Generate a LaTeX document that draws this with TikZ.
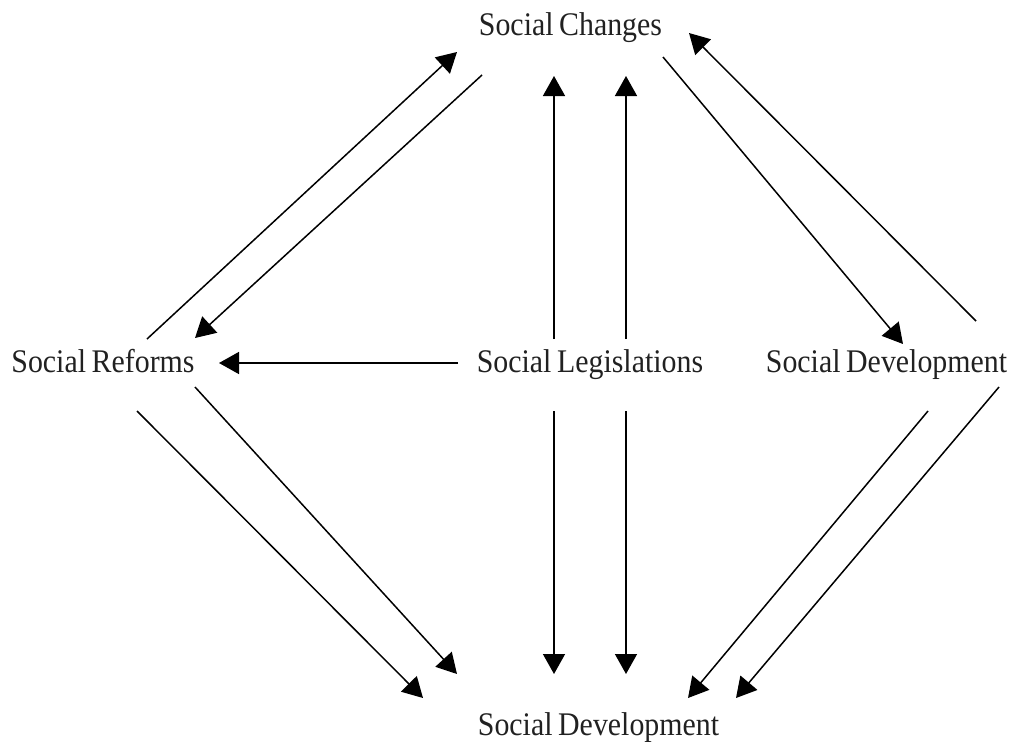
\documentclass[tikz,border=0pt]{standalone}
\usepackage{fontspec}
\setmainfont[WordSpace=0.75]{Liberation Serif}
\usetikzlibrary{arrows.meta}
\newcommand{\cond}[1]{\scalebox{0.905}[1]{#1}}
\begin{document}
\begin{tikzpicture}[x=1pt,y=-1pt,
  lbl/.style={anchor=base,inner sep=0pt,font=\fontsize{33}{38}\selectfont,text=black!87},
  conn/.style={line width=1.5pt,-{Triangle[length=20pt,width=22pt]}}]
\useasboundingbox (0,0) rectangle (1010,742);
\node[lbl] (chg) at (570.5,35) {\cond{Social Changes}};
\node[lbl] (ref) at (103,372) {\cond{Social Reforms}};
\node[lbl] (leg) at (590,372) {\cond{Social Legislations}};
\node[lbl] (devr) at (886.5,372) {\cond{Social Development}};
\node[lbl] (devb) at (598.5,735) {\cond{Social Development}};
% endpoints
\coordinate (a1s) at (147,339); \coordinate (a1e) at (457,52);
\coordinate (a2s) at (482,75);  \coordinate (a2e) at (195,338);
\coordinate (a3s) at (554,339); \coordinate (a3e) at (554,76);
\coordinate (a4s) at (626,339); \coordinate (a4e) at (626,76);
\coordinate (a5s) at (663,57);  \coordinate (a5e) at (903,344);
\coordinate (a6s) at (976,321); \coordinate (a6e) at (689,33);
\coordinate (a7s) at (458,363); \coordinate (a7e) at (219,363);
\coordinate (a8s) at (137,411); \coordinate (a8e) at (423,698);
\coordinate (a9s) at (195,387); \coordinate (a9e) at (457,674);
\coordinate (a10s) at (554,411); \coordinate (a10e) at (554,674);
\coordinate (a11s) at (626,411); \coordinate (a11e) at (626,674);
\coordinate (a12s) at (928,411); \coordinate (a12e) at (688,698);
\coordinate (a13s) at (999,387); \coordinate (a13e) at (736,698);
\foreach \i in {1,...,13} {\draw[conn] (a\i s) -- (a\i e);}
\end{tikzpicture}
\end{document}
